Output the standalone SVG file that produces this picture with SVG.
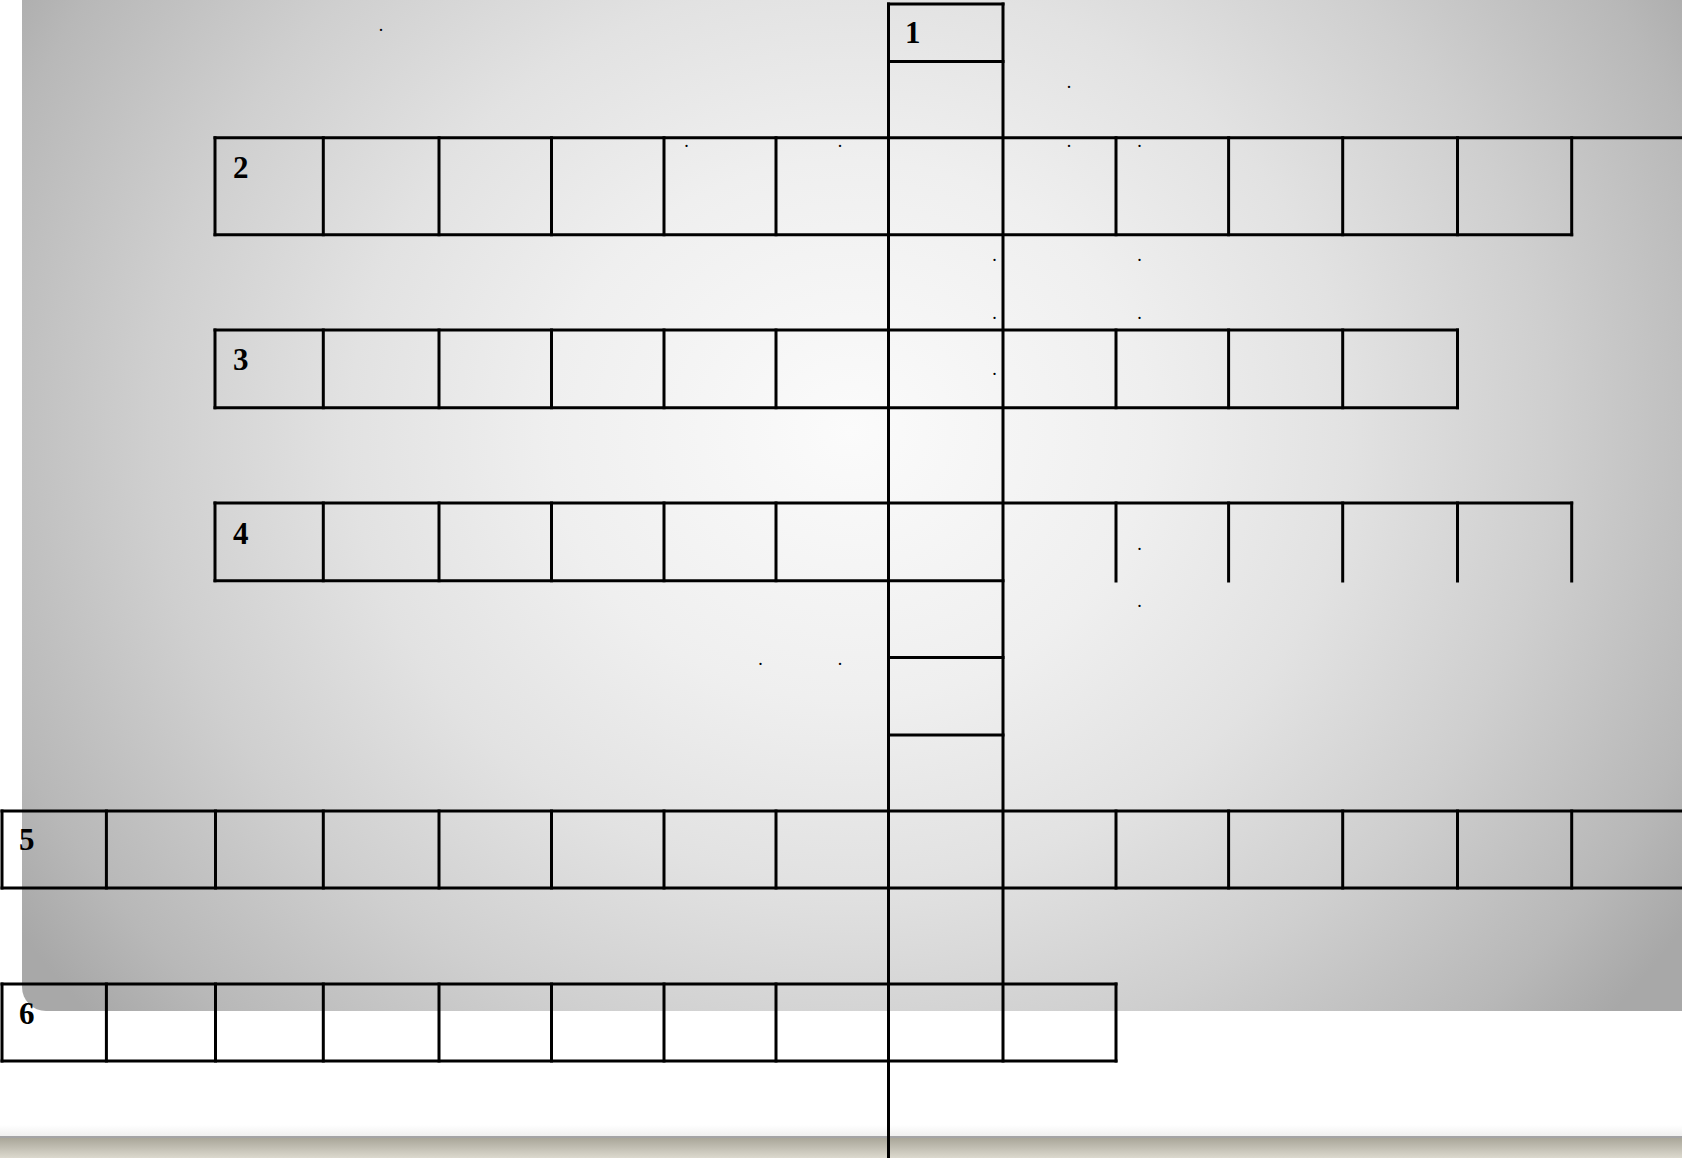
<svg xmlns="http://www.w3.org/2000/svg" width="1682" height="1158" viewBox="0 0 1682 1158">
<defs>
<radialGradient id="bgGrad" gradientUnits="userSpaceOnUse" cx="850" cy="430" r="1000" gradientTransform="translate(850 430) scale(1 0.9) translate(-850 -430)">
<stop offset="0" stop-color="#fbfbfb"/>
<stop offset="0.3" stop-color="#efefef"/>
<stop offset="0.5" stop-color="#e2e2e2"/>
<stop offset="0.7" stop-color="#cfcfcf"/>
<stop offset="0.9" stop-color="#b8b8b8"/>
<stop offset="1" stop-color="#a8a8a8"/>
</radialGradient>
<linearGradient id="bandGrad" x1="0" y1="0" x2="0" y2="1">
<stop offset="0" stop-color="#a9a699"/>
<stop offset="1" stop-color="#dcd9ce"/>
</linearGradient>
<linearGradient id="fadeGrad" x1="0" y1="0" x2="0" y2="1">
<stop offset="0" stop-color="#ffffff"/>
<stop offset="1" stop-color="#f0f0f0"/>
</linearGradient>
</defs>
<style>
.grid line, .grid path { stroke: #000; stroke-width: 3; fill: none; stroke-linecap: square; }
.num { font-family: "Liberation Serif", "Times New Roman", serif; font-weight: bold; font-size: 31px; fill: #000; }
.dot { font-family: "Liberation Serif", serif; font-size: 18px; fill: #000; text-anchor: middle; }
</style>

<g id="background">
<rect x="0" y="0" width="1682" height="1158" fill="#ffffff"/>
<path d="M22 0 H1682 V1011 H46 A24 24 0 0 1 22 987 Z" fill="url(#bgGrad)"/>
<rect x="0" y="1125" width="1682" height="11" fill="url(#fadeGrad)"/>
<rect x="0" y="1136" width="1682" height="2" fill="#a4a4a6"/>
<rect x="0" y="1138" width="1682" height="20" fill="url(#bandGrad)"/>
</g>

<g id="word-1" class="grid">
<line x1="888.5" y1="4" x2="888.5" y2="1158"/>
<line x1="1003" y1="4" x2="1003" y2="1061"/>
<line x1="888.5" y1="4" x2="1003" y2="4"/>
<line x1="888.5" y1="61.5" x2="1003" y2="61.5"/>
<line x1="888.5" y1="657.5" x2="1003" y2="657.5"/>
<line x1="888.5" y1="735" x2="1003" y2="735"/>
<text class="num" x="905" y="43">1</text>
</g>

<g id="word-2" class="grid">
<line x1="215" y1="137.7" x2="1682" y2="137.7"/>
<line x1="215" y1="234.7" x2="1571.7" y2="234.7"/>
<path d="M215 137.7V234.7 M323.3 137.7V234.7 M439 137.7V234.7 M551.5 137.7V234.7 M664 137.7V234.7 M776 137.7V234.7 M1116 137.7V234.7 M1228.6 137.7V234.7 M1342.7 137.7V234.7 M1457.5 137.7V234.7 M1571.7 137.7V234.7"/>
<text class="num" x="233" y="178">2</text>
</g>

<g id="word-3" class="grid">
<line x1="215" y1="330" x2="1457.5" y2="330"/>
<line x1="215" y1="407.7" x2="1457.5" y2="407.7"/>
<path d="M215 330V407.7 M323.3 330V407.7 M439 330V407.7 M551.5 330V407.7 M664 330V407.7 M776 330V407.7 M1116 330V407.7 M1228.6 330V407.7 M1342.7 330V407.7 M1457.5 330V407.7"/>
<text class="num" x="233" y="370">3</text>
</g>

<g id="word-4" class="grid">
<line x1="215" y1="503" x2="1571.7" y2="503"/>
<line x1="215" y1="580.7" x2="1003" y2="580.7"/>
<path d="M215 503V580.7 M323.3 503V580.7 M439 503V580.7 M551.5 503V580.7 M664 503V580.7 M776 503V580.7 M1116 503V581 M1228.6 503V581 M1342.7 503V581 M1457.5 503V581 M1571.7 503V581"/>
<text class="num" x="233" y="544">4</text>
</g>

<g id="word-5" class="grid">
<line x1="2" y1="811" x2="1682" y2="811"/>
<line x1="2" y1="888" x2="1682" y2="888"/>
<path d="M2 811V888 M106.4 811V888 M215.5 811V888 M323.3 811V888 M439 811V888 M551.5 811V888 M664 811V888 M776 811V888 M1116 811V888 M1228.6 811V888 M1342.7 811V888 M1457.5 811V888 M1571.7 811V888"/>
<text class="num" x="19" y="850">5</text>
</g>

<g id="word-6" class="grid">
<line x1="2" y1="984" x2="1116" y2="984"/>
<line x1="2" y1="1061" x2="1116" y2="1061"/>
<path d="M2 984V1061 M106.4 984V1061 M215.5 984V1061 M323.3 984V1061 M439 984V1061 M551.5 984V1061 M664 984V1061 M776 984V1061 M1116 984V1061"/>
<text class="num" x="19" y="1024">6</text>
</g>

<g id="dots">
<text class="dot" x="381" y="31">.</text>
<text class="dot" x="1069" y="88">.</text>
<text class="dot" x="686.5" y="147">.</text>
<text class="dot" x="840" y="147">.</text>
<text class="dot" x="1069" y="147">.</text>
<text class="dot" x="1139.5" y="147">.</text>
<text class="dot" x="994.5" y="261">.</text>
<text class="dot" x="1139.5" y="261">.</text>
<text class="dot" x="994.5" y="318.5">.</text>
<text class="dot" x="1139.5" y="318.5">.</text>
<text class="dot" x="994.5" y="375">.</text>
<text class="dot" x="1139.5" y="549.5">.</text>
<text class="dot" x="1139.5" y="607">.</text>
<text class="dot" x="760.5" y="664.5">.</text>
<text class="dot" x="840" y="664.5">.</text>
</g>
</svg>
